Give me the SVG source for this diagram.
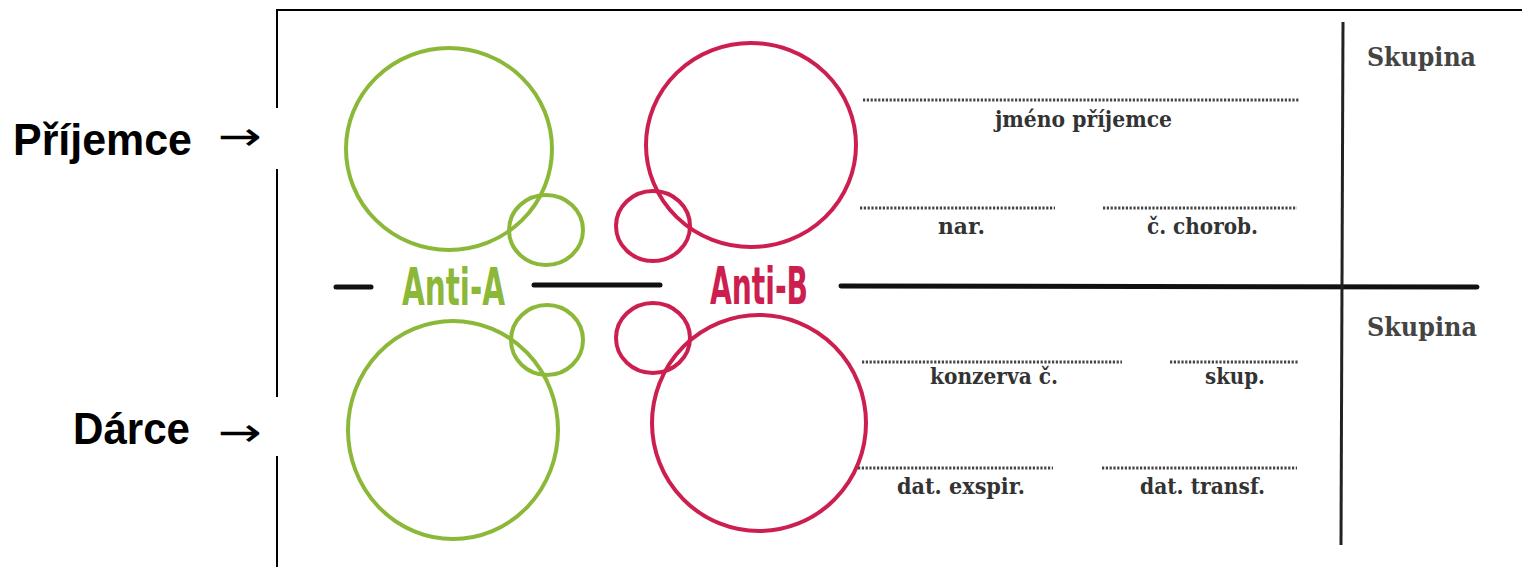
<svg xmlns="http://www.w3.org/2000/svg" width="1522" height="567" viewBox="0 0 1522 567">
<style>
.frame{stroke:#000;stroke-width:2;fill:none}
.bar{stroke:#111;stroke-width:5;fill:none;stroke-linecap:round}
.vbar{stroke:#222;stroke-width:3;fill:none}
.g{stroke:#8cb83a;stroke-width:4;fill:none}
.r{stroke:#cc1f4f;stroke-width:4;fill:none}
.dot{stroke:#444;stroke-width:3;stroke-dasharray:2.2 1.6;fill:none}
.lbl{font-family:"DejaVu Serif","Liberation Serif",serif;font-weight:bold;font-size:22px;fill:#333}
.sk{font-family:"DejaVu Serif","Liberation Serif",serif;font-weight:bold;font-size:26px;fill:#444}
.side{font-family:"Liberation Sans",Arial,sans-serif;font-weight:bold;font-size:44px;fill:#000}
.arr{font-family:"DejaVu Sans",sans-serif;font-size:40px;fill:#000}
.anti{font-family:"Liberation Sans Narrow","DejaVu Sans Condensed",sans-serif;font-weight:bold;font-size:51px}
</style>
<rect width="1522" height="567" fill="#fff"/>
<g id="frame">
<line class="frame" x1="277" y1="10" x2="1522" y2="10"/>
<line class="frame" x1="277" y1="9" x2="277" y2="108"/>
<line class="frame" x1="277" y1="169" x2="277" y2="397"/>
<line class="frame" x1="277" y1="456" x2="277" y2="567"/>
</g>
<g id="dividers">
<line class="bar" x1="336" y1="287" x2="371" y2="287"/>
<line class="bar" x1="534" y1="285" x2="660" y2="285"/>
<line class="bar" x1="841" y1="286" x2="1477" y2="287"/>
<line class="vbar" x1="1343" y1="22" x2="1341" y2="545"/>
</g>
<g id="anti-a">
<ellipse class="g" cx="449" cy="149" rx="103" ry="101"/>
<ellipse class="g" cx="546" cy="230" rx="37" ry="35"/>
<ellipse class="g" cx="547" cy="340" rx="36" ry="35"/>
<ellipse class="g" cx="453" cy="430" rx="105" ry="109"/>
<text class="anti" x="402" y="305" fill="#8cb83a" textLength="103" lengthAdjust="spacingAndGlyphs">Anti-A</text>
</g>
<g id="anti-b">
<ellipse class="r" cx="751" cy="145" rx="105" ry="102"/>
<ellipse class="r" cx="653" cy="226" rx="37" ry="35"/>
<ellipse class="r" cx="653" cy="338" rx="37" ry="35"/>
<ellipse class="r" cx="759" cy="423" rx="107" ry="108"/>
<text class="anti" x="710" y="304" fill="#cc1f4f" textLength="98" lengthAdjust="spacingAndGlyphs">Anti-B</text>
</g>
<g id="fields">
<line class="dot" x1="863" y1="100" x2="1300" y2="100"/>
<text class="lbl" x="995" y="127" textLength="177" lengthAdjust="spacingAndGlyphs">jméno příjemce</text>
<line class="dot" x1="860" y1="208" x2="1055" y2="208"/>
<text class="lbl" x="938" y="234" textLength="47" lengthAdjust="spacingAndGlyphs">nar.</text>
<line class="dot" x1="1103" y1="208" x2="1297" y2="208"/>
<text class="lbl" x="1147" y="234" textLength="111" lengthAdjust="spacingAndGlyphs">č. chorob.</text>
<line class="dot" x1="862" y1="362" x2="1122" y2="362"/>
<text class="lbl" x="930" y="384" textLength="128" lengthAdjust="spacingAndGlyphs">konzerva č.</text>
<line class="dot" x1="1170" y1="362" x2="1298" y2="362"/>
<text class="lbl" x="1205" y="384" textLength="60" lengthAdjust="spacingAndGlyphs">skup.</text>
<line class="dot" x1="858" y1="468" x2="1053" y2="468"/>
<text class="lbl" x="897" y="494" textLength="128" lengthAdjust="spacingAndGlyphs">dat. exspir.</text>
<line class="dot" x1="1102" y1="468" x2="1297" y2="468"/>
<text class="lbl" x="1140" y="494" textLength="125" lengthAdjust="spacingAndGlyphs">dat. transf.</text>
<text class="sk" x="1367" y="66" textLength="109" lengthAdjust="spacingAndGlyphs">Skupina</text>
<text class="sk" x="1367" y="336" textLength="110" lengthAdjust="spacingAndGlyphs">Skupina</text>
</g>
<g id="side-labels">
<text class="side" x="13" y="155" textLength="179" lengthAdjust="spacingAndGlyphs">Příjemce</text>
<text class="arr" x="218" y="150" textLength="44" lengthAdjust="spacingAndGlyphs">→</text>
<text class="side" x="73" y="444" textLength="117" lengthAdjust="spacingAndGlyphs">Dárce</text>
<text class="arr" x="218" y="446" textLength="44" lengthAdjust="spacingAndGlyphs">→</text>
</g>
</svg>
